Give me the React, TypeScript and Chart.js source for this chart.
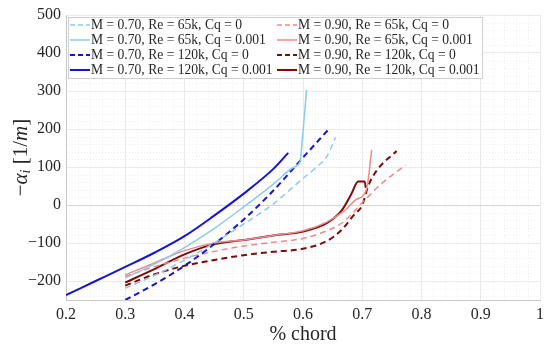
import React, { useEffect, useRef } from "react";
import { Chart, registerables } from "chart.js";

Chart.register(...registerables);

const xTicks = [0.2, 0.3, 0.4, 0.5, 0.6, 0.7, 0.8, 0.9, 1.0];
const yTicks = [-200, -100, 0, 100, 200, 300, 400, 500];

const seriesLabels = [
  "M = 0.70, Re = 65k, Cq = 0",
  "M = 0.70, Re = 65k, Cq = 0.001",
  "M = 0.70, Re = 120k, Cq = 0",
  "M = 0.70, Re = 120k, Cq = 0.001",
  "M = 0.90, Re = 65k, Cq = 0",
  "M = 0.90, Re = 65k, Cq = 0.001",
  "M = 0.90, Re = 120k, Cq = 0",
  "M = 0.90, Re = 120k, Cq = 0.001",
];

// [x (fraction of chord), -alpha_i (1/m)]
const m70Re65Cq0: [number, number][] = [
  [0.3, -219], [0.35, -185], [0.4, -145], [0.45, -100], [0.5, -50],
  [0.55, 3], [0.6, 70], [0.62, 96], [0.64, 127], [0.65, 160], [0.655, 178],
];
const m70Re65Cq1: [number, number][] = [
  [0.3, -192], [0.35, -155], [0.4, -112], [0.45, -62], [0.5, -5],
  [0.55, 55], [0.585, 100], [0.595, 114], [0.597, 140], [0.606, 303],
];
const m70Re120Cq0: [number, number][] = [
  [0.3, -250], [0.35, -208], [0.4, -160], [0.45, -103], [0.5, -38],
  [0.55, 38], [0.6, 125], [0.642, 197],
];
const m70Re120Cq1: [number, number][] = [
  [0.2, -237], [0.25, -200], [0.3, -163], [0.35, -125], [0.4, -82],
  [0.45, -28], [0.5, 30], [0.55, 95], [0.575, 137],
];
const m90Re65Cq0: [number, number][] = [
  [0.3, -188], [0.35, -162], [0.4, -140], [0.45, -122], [0.5, -108],
  [0.55, -98], [0.6, -88], [0.64, -68], [0.665, -48], [0.685, -20],
  [0.696, 0], [0.71, 22], [0.73, 53], [0.773, 105],
];
const m90Re65Cq1: [number, number][] = [
  [0.3, -184], [0.35, -152], [0.4, -120], [0.45, -100], [0.5, -92],
  [0.55, -80], [0.6, -68], [0.64, -45], [0.67, -15], [0.69, 15],
  [0.707, 40], [0.716, 145],
];
const m90Re120Cq0: [number, number][] = [
  [0.3, -212], [0.35, -182], [0.4, -160], [0.45, -145], [0.5, -132],
  [0.55, -123], [0.6, -115], [0.64, -95], [0.665, -66], [0.685, -28],
  [0.7, 0], [0.71, 50], [0.725, 92], [0.758, 142],
];
const m90Re120Cq1: [number, number][] = [
  [0.3, -204], [0.35, -168], [0.4, -130], [0.45, -103], [0.5, -92],
  [0.55, -80], [0.6, -70], [0.64, -48], [0.665, -15], [0.682, 30],
  [0.693, 62], [0.704, 62], [0.706, 45],
];

const seriesData = [
  m70Re65Cq0, m70Re65Cq1, m70Re120Cq0, m70Re120Cq1,
  m90Re65Cq0, m90Re65Cq1, m90Re120Cq0, m90Re120Cq1,
];
const seriesColors = [
  "#8ccbe8", "#8ccbe8", "#1414d2", "#1414d2",
  "#f08a8a", "#f08a8a", "#7a0c0c", "#7a0c0c",
];
const seriesDashed = [true, false, true, false, true, false, true, false];
const seriesWidths = [1.5, 1.5, 2, 2, 1.5, 1.5, 2, 2];

const SERIF = "'Liberation Serif', 'DejaVu Serif', serif";

const decorPlugin = {
  id: "decor",
  beforeDatasetsDraw(chart: any) {
    const { ctx, chartArea, scales } = chart;
    const xs = scales.x;
    const ys = scales.y;
    ctx.save();
    ctx.strokeStyle = "rgba(0,0,0,0.06)";
    ctx.lineWidth = 1;
    ctx.setLineDash([1, 2]);
    for (let i = 0; i <= 40; i++) {
      const v = 0.2 + i * 0.02;
      if (i % 5 === 0) continue;
      const px = Math.round(xs.getPixelForValue(v)) + 0.5;
      ctx.beginPath();
      ctx.moveTo(px, chartArea.top);
      ctx.lineTo(px, chartArea.bottom);
      ctx.stroke();
    }
    for (let v = -240; v <= 500; v += 20) {
      if (v % 100 === 0) continue;
      const py = Math.round(ys.getPixelForValue(v)) + 0.5;
      ctx.beginPath();
      ctx.moveTo(chartArea.left, py);
      ctx.lineTo(chartArea.right, py);
      ctx.stroke();
    }
    ctx.restore();
  },
  afterDraw(chart: any) {
    const { ctx, chartArea } = chart;
    ctx.save();
    // x title
    ctx.fillStyle = "#262626";
    ctx.font = `20px ${SERIF}`;
    ctx.textAlign = "center";
    ctx.textBaseline = "middle";
    ctx.fillText("% chord", (chartArea.left + chartArea.right) / 2, 335);

    // y title
    ctx.save();
    ctx.translate(21, (chartArea.top + chartArea.bottom) / 2);
    ctx.rotate(-Math.PI / 2);
    const parts = [
      { t: "\u2212", f: `21px ${SERIF}`, dy: 0 },
      { t: "\u03b1", f: `italic 21px ${SERIF}`, dy: 0 },
      { t: "i", f: `italic 14px ${SERIF}`, dy: 5 },
      { t: " [1/", f: `21px ${SERIF}`, dy: 0 },
      { t: "m", f: `italic 21px ${SERIF}`, dy: 0 },
      { t: "]", f: `21px ${SERIF}`, dy: 0 },
    ];
    let total = 0;
    const widths = parts.map((p) => {
      ctx.font = p.f;
      const w = ctx.measureText(p.t).width;
      total += w;
      return w;
    });
    let cx = -total / 2;
    ctx.textAlign = "left";
    ctx.textBaseline = "middle";
    parts.forEach((p, i) => {
      ctx.font = p.f;
      ctx.fillText(p.t, cx, p.dy);
      cx += widths[i];
    });
    ctx.restore();

    // legend
    const bx = 68, by = 17, bw = 414, bh = 61;
    ctx.fillStyle = "#ffffff";
    ctx.fillRect(bx, by, bw, bh);
    ctx.strokeStyle = "#cfcfcf";
    ctx.lineWidth = 1;
    ctx.setLineDash([]);
    ctx.strokeRect(bx + 0.5, by + 0.5, bw, bh);
    const colX = [70, 277];
    const rowY = [25, 40, 55, 70];
    ctx.font = `13.6px ${SERIF}`;
    ctx.textAlign = "left";
    ctx.textBaseline = "middle";
    seriesLabels.forEach((lab, i) => {
      const col = i < 4 ? 0 : 1;
      const row = i % 4;
      const x0 = colX[col];
      const y0 = rowY[row];
      ctx.strokeStyle = seriesColors[i];
      ctx.lineWidth = seriesWidths[i];
      ctx.setLineDash(seriesDashed[i] ? [5, 3] : []);
      ctx.beginPath();
      ctx.moveTo(x0, y0);
      ctx.lineTo(x0 + 20, y0);
      ctx.stroke();
      ctx.setLineDash([]);
      ctx.fillStyle = "#262626";
      ctx.fillText(lab, x0 + 21, y0 + 0.5);
    });
    ctx.restore();
  },
};

export default function App() {
  const canvasRef = useRef<HTMLCanvasElement | null>(null);

  useEffect(() => {
    document.body.style.margin = "0";
    const canvas = canvasRef.current;
    if (!canvas) return;
    const datasets = seriesData.map((d, i) => ({
      label: seriesLabels[i],
      data: d.map(([x, y]) => ({ x, y })),
      borderColor: seriesColors[i],
      backgroundColor: seriesColors[i],
      borderWidth: seriesWidths[i],
      borderDash: seriesDashed[i] ? [6, 4] : [],
      pointRadius: 0,
      fill: false,
      cubicInterpolationMode: "monotone" as const,
    }));
    const chart = new Chart(canvas, {
      type: "line",
      data: { datasets },
      plugins: [decorPlugin],
      options: {
        animation: false,
        responsive: false,
        maintainAspectRatio: false,
        devicePixelRatio: 1,
        layout: { padding: { left: 0, right: 10, top: 15, bottom: 0 } },
        plugins: { legend: { display: false }, tooltip: { enabled: false } },
        scales: {
          x: {
            type: "linear",
            min: 0.2,
            max: 1,
            afterBuildTicks: (scale: any) => {
              scale.ticks = xTicks.map((v) => ({ value: v }));
            },
            afterFit: (scale: any) => {
              scale.height = 51;
            },
            grid: { color: "#ebebeb", drawTicks: false },
            border: { color: "#c8c8c8" },
            ticks: {
              padding: 5,
              color: "#262626",
              font: { family: SERIF, size: 16 },
              maxRotation: 0,
              callback: (v: any) => (Number(v) === 1 ? "1" : Number(v).toFixed(1)),
            },
          },
          y: {
            type: "linear",
            min: -250,
            max: 500,
            afterBuildTicks: (scale: any) => {
              scale.ticks = yTicks.map((v) => ({ value: v }));
            },
            afterFit: (scale: any) => {
              scale.width = 66;
            },
            grid: {
              color: (c: any) => (c.tick && c.tick.value === 0 ? "#d6d6d6" : "#ebebeb"),
              drawTicks: false,
            },
            border: { color: "#c8c8c8" },
            ticks: {
              padding: 5,
              color: "#262626",
              font: { family: SERIF, size: 16 },
              callback: (v: any) => String(v).replace("-", "\u2212"),
            },
          },
        },
      },
    });
    return () => chart.destroy();
  }, []);

  return (
    <div style={{ width: 550, height: 351 }}>
      <canvas ref={canvasRef} width={550} height={351} style={{ display: "block" }} />
    </div>
  );
}
